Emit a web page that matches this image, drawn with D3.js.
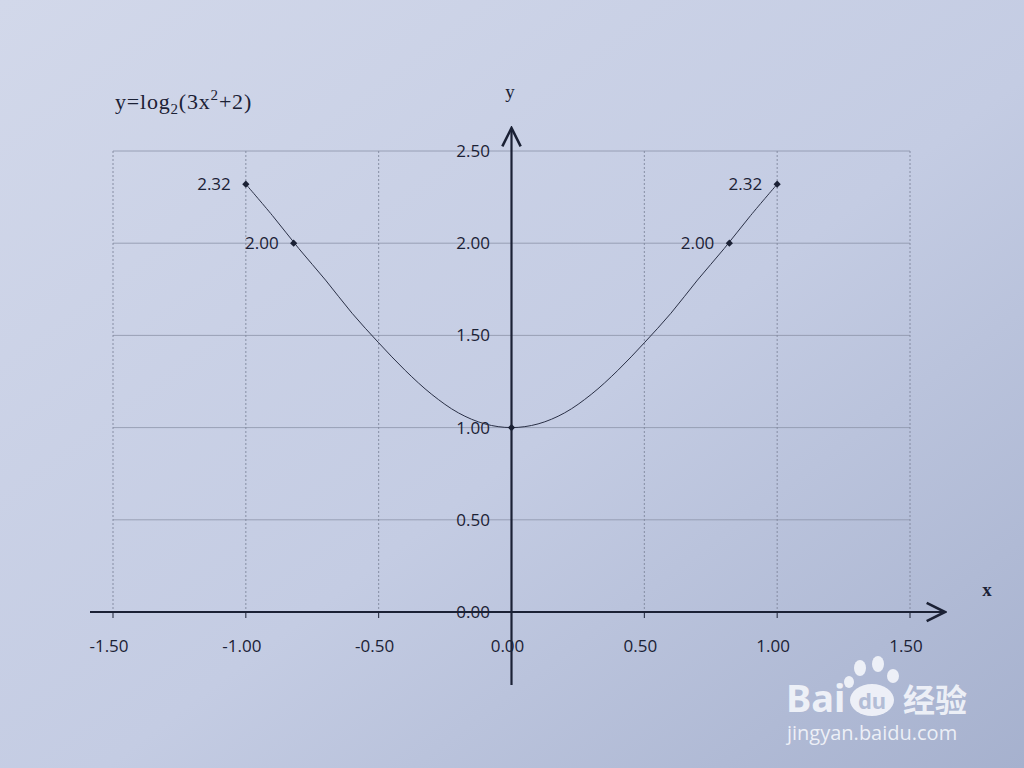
<!DOCTYPE html>
<html><head><meta charset="utf-8">
<script src="https://cdn.jsdelivr.net/npm/d3@7"></script>
<style>html,body{margin:0;padding:0;background:#c9d0e4;}svg{display:block;}</style>
</head><body>
<script>
// ---- data ----
const xTicks = [-1.5, -1.0, -0.5, 0.0, 0.5, 1.0, 1.5];
const yTicks = [0.0, 0.5, 1.0, 1.5, 2.0, 2.5];
const curveX = [-1.0, -0.9, -0.8, -0.7, -0.6, -0.5, -0.4, -0.3, -0.2, -0.1, 0.0, 0.1, 0.2, 0.3, 0.4, 0.5, 0.6, 0.7, 0.8, 0.9, 1.0];
const curveY = [2.32, 2.15, 1.97, 1.80, 1.62, 1.46, 1.31, 1.18, 1.08, 1.02, 1.00, 1.02, 1.08, 1.18, 1.31, 1.46, 1.62, 1.80, 1.97, 2.15, 2.32];
const markX = [-1.0, -0.82, 0.0, 0.82, 1.0];
const markY = [2.32, 2.00, 1.00, 2.00, 2.32];
const markLabels = ["2.32", "2.00", "", "2.00", "2.32"];

const W = 1024, H = 768;
const svg = d3.select("body").append("svg").attr("width", W).attr("height", H);
const defs = svg.append("defs");
const lg = defs.append("linearGradient").attr("id","bg").attr("x1","0").attr("y1","0").attr("x2","1").attr("y2","1");
lg.append("stop").attr("offset","0").attr("stop-color","#d2d8ea");
lg.append("stop").attr("offset","0.55").attr("stop-color","#c4cce3");
lg.append("stop").attr("offset","1").attr("stop-color","#a6b1ce");
svg.append("rect").attr("width",W).attr("height",H).attr("fill","url(#bg)");

const x = d3.scaleLinear().domain([-1.5, 1.5]).range([113, 910]);
const y = d3.scaleLinear().domain([0, 2.5]).range([612, 151]);
const ink = "#1b2135";
const sans = "'Open Sans', 'Noto Sans', sans-serif";
const serif = "'Liberation Serif', 'DejaVu Serif', serif";
const fmt = d => d3.format(".2f")(d).replace("\u2212", "-");

// grid
const g = svg.append("g");
g.selectAll(".hg").data(yTicks.filter(d=>d>0)).join("line")
  .attr("x1", x(-1.5)).attr("x2", x(1.5)).attr("y1", d=>y(d)).attr("y2", d=>y(d))
  .attr("stroke", "#8b93a8").attr("stroke-width", 0.8);
g.selectAll(".vg").data(xTicks).join("line")
  .attr("x1", d=>x(d)).attr("x2", d=>x(d)).attr("y1", y(2.5)).attr("y2", y(0))
  .attr("stroke", "#7f879c").attr("stroke-width", 0.9).attr("stroke-dasharray", "2,2");

// axes
defs.append("marker").attr("id","arr").attr("viewBox","0 0 12 12").attr("refX","11").attr("refY","6")
  .attr("markerWidth",22).attr("markerHeight",22).attr("markerUnits","userSpaceOnUse").attr("orient","auto")
  .append("path").attr("d","M1,1 L11,6 L1,11").attr("fill","none").attr("stroke",ink).attr("stroke-width",1.4);
svg.append("line").attr("x1", 90).attr("x2", 945).attr("y1", y(0)).attr("y2", y(0))
  .attr("stroke", ink).attr("stroke-width", 2.2).attr("marker-end","url(#arr)");
svg.append("line").attr("x1", x(0)).attr("x2", x(0)).attr("y1", 685).attr("y2", 128)
  .attr("stroke", ink).attr("stroke-width", 2.2).attr("marker-end","url(#arr)");

// x ticks
svg.selectAll(".xt").data(xTicks).join("line")
  .attr("x1", d=>x(d)).attr("x2", d=>x(d)).attr("y1", y(0)).attr("y2", y(0)+6)
  .attr("stroke", ink).attr("stroke-width", 1);
svg.selectAll(".xl").data(xTicks).join("text")
  .attr("x", d=>x(d)-4).attr("y", 652).attr("text-anchor","middle")
  .attr("font-family", sans).attr("font-size", 17).attr("fill", ink)
  .text(fmt);
// y labels
svg.selectAll(".yl").data(yTicks).join("text")
  .attr("x", 490).attr("y", d=>y(d)+6).attr("text-anchor","end")
  .attr("font-family", sans).attr("font-size", 17).attr("fill", ink)
  .text(fmt);

// axis names
svg.append("text").attr("x", 510).attr("y", 98).attr("text-anchor","middle")
  .attr("font-family", serif).attr("font-size", 19).attr("fill", ink).text("y");
svg.append("text").attr("x", 987).attr("y", 596).attr("text-anchor","middle")
  .attr("font-family", serif).attr("font-size", 19).attr("font-weight","bold").attr("fill", ink).text("x");

// title
const t = svg.append("text").attr("x", 115).attr("y", 109)
  .attr("font-family", serif).attr("font-size", 22).attr("letter-spacing", 0.8).attr("fill", ink);
t.append("tspan").text("y=log");
t.append("tspan").attr("font-size", 15).attr("dy", 5).text("2");
t.append("tspan").attr("dy", -5).text("(3x");
t.append("tspan").attr("font-size", 15).attr("dy", -9).text("2");
t.append("tspan").attr("dy", 9).text("+2)");

// curve
const pts = curveX.map((v,i)=>[v, curveY[i]]);
svg.append("path").datum(pts)
  .attr("d", d3.line().x(d=>x(d[0])).y(d=>y(d[1])).curve(d3.curveCatmullRom))
  .attr("fill","none").attr("stroke", "#2a3046").attr("stroke-width", 1);

// markers
const mk = markX.map((v,i)=>({x:v, y:markY[i], l:markLabels[i]}));
svg.selectAll(".mk").data(mk).join("path")
  .attr("transform", d=>`translate(${x(d.x)},${y(d.y)}) rotate(45)`)
  .attr("d", d3.symbol().type(d3.symbolSquare).size(26))
  .attr("fill", ink);
svg.selectAll(".ml").data(mk.filter(d=>d.l)).join("text")
  .attr("x", d=>x(d.x)-15).attr("y", d=>y(d.y)+6).attr("text-anchor","end")
  .attr("font-family", sans).attr("font-size", 17).attr("fill", ink).text(d=>d.l);

// watermark
const wm = svg.append("g").attr("fill","#f4f6fb").attr("opacity",0.9);
wm.append("text").attr("x", 786).attr("y", 712).attr("font-family","'Noto Sans', sans-serif")
  .attr("font-weight","bold").attr("font-size", 38).text("Bai");
wm.append("ellipse").attr("cx", 872).attr("cy", 700).attr("rx", 22).attr("ry", 16);
[[860,668,6,8],[878,664,6,8],[893,676,6,7],[849,682,5,6]].forEach(c=>
  wm.append("ellipse").attr("cx",c[0]).attr("cy",c[1]).attr("rx",c[2]).attr("ry",c[3]));
svg.append("text").attr("x", 872).attr("y", 709).attr("text-anchor","middle")
  .attr("font-family","'Noto Sans', sans-serif").attr("font-weight","bold").attr("font-size", 22)
  .attr("fill","#b3bdd6").text("du");
wm.append("text").attr("x", 903).attr("y", 712).attr("font-family","'Noto Sans CJK SC', sans-serif")
  .attr("font-weight","bold").attr("font-size", 32).text("经验");
wm.append("text").attr("x", 787).attr("y", 740).attr("font-family","'Open Sans', sans-serif")
  .attr("font-size", 20).text("jingyan.baidu.com");
</script>
</body></html>
